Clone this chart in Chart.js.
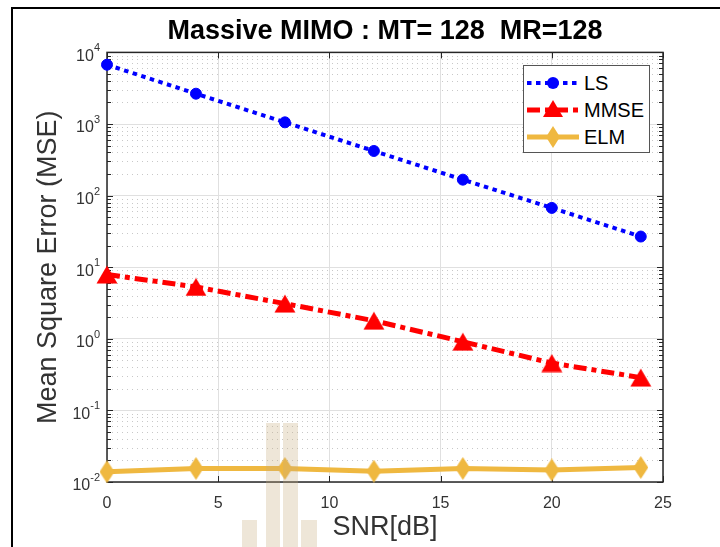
<!DOCTYPE html>
<html>
<head>
<meta charset="utf-8">
<title>Massive MIMO MSE</title>
<script src="https://cdn.jsdelivr.net/npm/chart.js@4.4.1/dist/chart.umd.min.js"></script>
<style>
  html, body { margin: 0; padding: 0; background: #fff; overflow: hidden; }
  #wrap { position: relative; width: 720px; height: 547px; }
  #frame { position: absolute; left: 11px; top: 7px; width: 800px; height: 600px;
           border-left: 2px solid #000; border-top: 2px solid #000; }
  #mseChart { position: absolute; left: 0; top: 0; }
  #legend { position: absolute; left: 523px; top: 65px; width: 125px; height: 86px;
            background: #fff; border: 1px solid #555; font-family: "Liberation Sans", Arial, sans-serif; }
  .row { position: absolute; left: 3px; height: 26px; display: flex; align-items: center; }
  .row span { margin-left: 5px; font-size: 20px; color: #000; }
</style>
</head>
<body>
<div id="wrap">
  <div id="frame"></div>
  <canvas id="mseChart" width="720" height="547"></canvas>
  <div id="legend"></div>
</div>
<script>
const FONT = '"Liberation Sans", Arial, sans-serif';

// SNR points and measured MSE per estimator
const snr = [0, 4, 8, 12, 16, 20, 24];
const mseLS = [6730, 2650, 1055, 420, 167, 67.3, 26.8];
const mseMMSE = [7.9, 5.3, 3.1, 1.79, 0.91, 0.458, 0.287];
const mseELM = [0.0139, 0.01545, 0.01545, 0.01416, 0.01545, 0.01472, 0.01596];

const xTickValues = [0, 5, 10, 15, 20, 25];
const yTickValues = [1e-2, 1e-1, 1e0, 1e1, 1e2, 1e3, 1e4];
const yTickExponents = ['-2', '-1', '0', '1', '2', '3', '4'];

// small canvases used as point styles (MATLAB-like triangle and tall diamond)
function makeMarker(w, h, color, path) {
  const c = document.createElement('canvas');
  c.width = w; c.height = h;
  const g = c.getContext('2d');
  g.beginPath();
  path(g, w, h);
  g.closePath();
  g.fillStyle = color;
  g.fill();
  return c;
}
const triangle = makeMarker(22, 19, '#ff0000', (g, w, h) => {
  g.moveTo(w / 2, 0.5); g.lineTo(w - 0.5, h - 0.5); g.lineTo(0.5, h - 0.5);
});
const diamond = makeMarker(15, 23, '#efb840', (g, w, h) => {
  g.moveTo(w / 2, 0); g.lineTo(w, h / 2); g.lineTo(w / 2, h); g.lineTo(0, h / 2);
});

const toPoints = ys => snr.map((x, i) => ({ x, y: ys[i] }));

const datasets = [
  {
    label: 'LS', data: toPoints(mseLS),
    borderColor: '#0000ff', borderWidth: 4, borderDash: [4.5, 4.5],
    pointStyle: 'circle', pointRadius: 5.5, pointBorderWidth: 1,
    pointBackgroundColor: '#0000ff', pointBorderColor: '#0000ff',
    legendDash: '4.5 4.5'
  },
  {
    label: 'MMSE', data: toPoints(mseMMSE),
    borderColor: '#ff0000', borderWidth: 5, borderDash: [13, 5, 5, 5],
    pointStyle: triangle, pointRadius: 9,
    legendDash: '13 5 5 5'
  },
  {
    label: 'ELM', data: toPoints(mseELM),
    borderColor: '#efb840', borderWidth: 5, borderJoinStyle: 'round',
    pointStyle: diamond, pointRadius: 9,
    legendDash: ''
  }
];
datasets.forEach(d => { d.clip = false; d.tension = 0; d.fill = false; });

// dotted minor grid, inward ticks, the axes box and 10^n tick labels
const matlabAxes = {
  id: 'matlabAxes',
  beforeDatasetsDraw(chart) {
    const { ctx, chartArea: a, scales: { x, y } } = chart;
    ctx.save();
    ctx.lineWidth = 1;
    for (let d = -2; d < 4; d++) {
      for (let k = 2; k < 10; k++) {
        const py = Math.round(y.getPixelForValue(k * Math.pow(10, d))) + 0.5;
        ctx.strokeStyle = '#c8c8c8';
        ctx.setLineDash([1, 4]);
        ctx.beginPath(); ctx.moveTo(a.left, py); ctx.lineTo(a.right, py); ctx.stroke();
        ctx.setLineDash([]);
        ctx.strokeStyle = '#262626';
        ctx.beginPath();
        ctx.moveTo(a.left, py); ctx.lineTo(a.left + 4, py);
        ctx.moveTo(a.right, py); ctx.lineTo(a.right - 4, py);
        ctx.stroke();
      }
    }
    ctx.strokeStyle = '#262626';
    ctx.beginPath();
    yTickValues.forEach(v => {
      const py = Math.round(y.getPixelForValue(v)) + 0.5;
      ctx.moveTo(a.left, py); ctx.lineTo(a.left + 6, py);
      ctx.moveTo(a.right, py); ctx.lineTo(a.right - 6, py);
    });
    xTickValues.forEach(v => {
      const px = Math.round(x.getPixelForValue(v)) + 0.5;
      ctx.moveTo(px, a.top); ctx.lineTo(px, a.top + 6);
      ctx.moveTo(px, a.bottom); ctx.lineTo(px, a.bottom - 6);
    });
    ctx.stroke();
    ctx.lineWidth = 1.5;
    ctx.strokeRect(a.left, a.top, a.right - a.left, a.bottom - a.top);

    // log tick labels as base 10 with a raised exponent
    ctx.fillStyle = '#333';
    ctx.textBaseline = 'middle';
    yTickValues.forEach((v, i) => {
      const py = y.getPixelForValue(v);
      const right = a.left - 7;
      ctx.font = '11px ' + FONT;
      const sw = ctx.measureText(yTickExponents[i]).width;
      ctx.textAlign = 'left';
      ctx.fillText(yTickExponents[i], right - sw, py - 4);
      ctx.font = '16px ' + FONT;
      ctx.textAlign = 'right';
      ctx.fillText('10', right - sw, py + 4);
    });
    ctx.restore();
  }
};

// faint watermark over the lower part of the plot
const watermark = {
  id: 'watermark',
  afterDatasetsDraw(chart) {
    const ctx = chart.ctx;
    ctx.save();
    ctx.fillStyle = 'rgba(200,172,125,0.3)';
    [[266, 423, 14, 124], [283, 423, 15, 124], [242, 520, 15, 27], [301, 520, 16, 27]]
      .forEach(r => ctx.fillRect(r[0], r[1], r[2], r[3]));
    ctx.restore();
  }
};

const chart = new Chart(document.getElementById('mseChart'), {
  type: 'line',
  data: { datasets },
  plugins: [matlabAxes, watermark],
  options: {
    responsive: false,
    animation: false,
    devicePixelRatio: 1,
    layout: { padding: { left: 0, right: 57, top: 0, bottom: 0 } },
    plugins: {
      legend: { display: false },
      tooltip: { enabled: false },
      title: {
        display: true, fullSize: false,
        text: 'Massive MIMO : MT= 128  MR=128',
        color: '#000',
        font: { family: FONT, size: 27, weight: 'bold' },
        padding: { top: 15, bottom: 5 }
      }
    },
    scales: {
      x: {
        type: 'linear', min: 0, max: 25,
        afterBuildTicks: s => { s.ticks = xTickValues.map(v => ({ value: v })); },
        afterFit: s => { s.height = 65; },
        ticks: { autoSkip: false, maxRotation: 0, padding: 12, color: '#333', font: { family: FONT, size: 16 } },
        grid: { color: '#e0e0e0', drawTicks: false },
        border: { display: false },
        title: { display: true, text: 'SNR[dB]', color: '#333', font: { family: FONT, size: 27 }, padding: { top: 0, bottom: 3 } }
      },
      y: {
        type: 'logarithmic', min: 1e-2, max: 1e4,
        afterBuildTicks: s => { s.ticks = yTickValues.map(v => ({ value: v })); },
        afterFit: s => { s.width = 107; },
        ticks: { display: false },
        grid: { color: '#e0e0e0', drawTicks: false },
        border: { display: false },
        title: { display: true, text: 'Mean Square Error (MSE)', color: '#333', font: { family: FONT, size: 27 }, padding: { top: 32, bottom: 0 } }
      }
    }
  }
});

// legend built from the dataset styles
const legend = document.getElementById('legend');
chart.data.datasets.forEach((d, i) => {
  const row = document.createElement('div');
  row.className = 'row';
  row.style.top = (4 + i * 27) + 'px';
  let marker;
  if (d.label === 'LS') marker = '<circle cx="26" cy="13" r="6" fill="#0000ff"/>';
  else if (d.label === 'MMSE') marker = '<polygon points="26,3 36,20 16,20" fill="#ff0000"/>';
  else marker = '<polygon points="26,2 33,13 26,24 19,13" fill="#efb840"/>';
  row.innerHTML =
    '<svg width="52" height="26"><line x1="0" y1="13" x2="52" y2="13" stroke="' + d.borderColor +
    '" stroke-width="' + d.borderWidth + '" stroke-dasharray="' + d.legendDash + '"/>' + marker + '</svg>' +
    '<span>' + d.label + '</span>';
  legend.appendChild(row);
});
</script>
</body>
</html>
